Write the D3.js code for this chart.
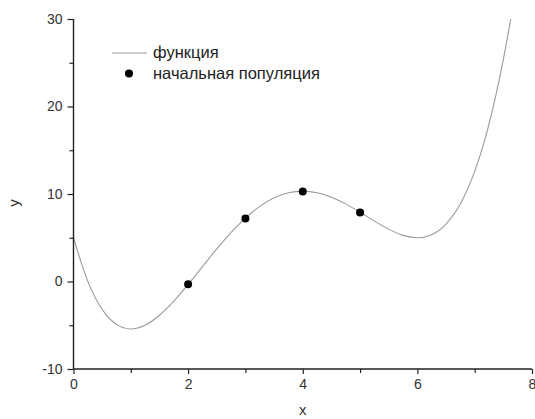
<!DOCTYPE html>
<html><head><meta charset="utf-8">
<script src="https://cdn.jsdelivr.net/npm/d3@7"></script>
<style>body{margin:0;background:#fff}svg{display:block}</style>
</head><body><svg id="c" width="535" height="419"></svg>
<script>
// function curve
const curveX = [0,0.25,0.5,0.75,1,1.25,1.5,1.75,2,2.25,2.5,2.75,3,3.25,3.5,3.75,4,4.25,4.5,4.75,5,5.25,5.5,5.75,6,6.25,6.5,6.75,7,7.25,7.5,7.63];
const curveY = [5,0.01,-3.19,-4.9,-5.42,-4.99,-3.86,-2.24,-0.33,1.7,3.72,5.61,7.25,8.58,9.56,10.14,10.33,10.15,9.64,8.87,7.92,6.9,5.98,5.27,5.0,5.35,6.56,8.86,12.58,17.98,25.39,30];
// initial population points
const popX = [2,3,4,5];
const popY = [-0.3,7.2,10.3,7.9];
const xMajor = [0,2,4,6,8];
const xMinor = [1,3,5,7];
const yMajor = [-10,0,10,20,30];
const yMinor = [-5,5,15,25];
const legendLabels = ["функция","начальная популяция"];

const svg = d3.select("#c");
const L = 73.5, R = 532, T = 19, B = 369;
const x = d3.scaleLinear().domain([0,8]).range([L,R]);
const y = d3.scaleLinear().domain([-10,30]).range([B,T]);
const font = "Liberation Sans, Arial, sans-serif";
const fmt = d => String(d);

// curve
const line = d3.line().x((d,i)=>x(curveX[i])).y((d,i)=>y(curveY[i])).curve(d3.curveMonotoneX);
svg.append("path").datum(curveX).attr("d", line)
  .attr("fill","none").attr("stroke","#9a9a9a").attr("stroke-width",1.1);

// points
svg.selectAll("circle.p").data(popX).enter().append("circle")
  .attr("cx",(d)=>x(d)).attr("cy",(d,i)=>y(popY[i])).attr("r",4).attr("fill","#000");

// axes
const axCol = "#222";
const gx = svg.append("g").attr("transform",`translate(0,${B})`)
  .call(d3.axisBottom(x).tickValues(xMajor).tickFormat(fmt).tickSize(5).tickPadding(5));
svg.append("g").attr("transform",`translate(0,${B})`)
  .call(d3.axisBottom(x).tickValues(xMinor).tickFormat("").tickSize(4)).select(".domain").remove();
const gy = svg.append("g").attr("transform",`translate(${L},0)`)
  .call(d3.axisLeft(y).tickValues(yMajor).tickFormat(fmt).tickSize(6).tickPadding(5));
svg.append("g").attr("transform",`translate(${L},0)`)
  .call(d3.axisLeft(y).tickValues(yMinor).tickFormat("").tickSize(4)).select(".domain").remove();
svg.selectAll(".domain").attr("stroke",axCol).attr("stroke-width",1.4);
svg.selectAll(".tick line").attr("stroke",axCol).attr("stroke-width",1.2);
svg.selectAll(".tick text").attr("fill","#333").style("font-family",font).style("font-size","14px");
gx.select(".domain").attr("d",`M${L},0H${R}`);
gy.select(".domain").attr("d",`M0,${B}V${T}`);

// axis titles
svg.append("text").attr("x",(L+R)/2).attr("y",415).attr("text-anchor","middle")
  .attr("fill","#333").style("font-family",font).style("font-size","15px").text("x");
svg.append("text").attr("transform",`translate(19,203) rotate(-90)`).attr("text-anchor","middle")
  .attr("fill","#333").style("font-family",font).style("font-size","15px").text("y");

// legend
svg.append("line").attr("x1",112).attr("x2",147).attr("y1",53).attr("y2",53)
  .attr("stroke","#9a9a9a").attr("stroke-width",1.1);
svg.append("circle").attr("cx",129).attr("cy",73.5).attr("r",4).attr("fill","#000");
legendLabels.forEach((t,i)=>{
  svg.append("text").attr("x",153).attr("y",58+i*20.5).attr("fill","#222")
    .style("font-family",font).style("font-size","16.5px").text(t);
});
</script></body></html>
